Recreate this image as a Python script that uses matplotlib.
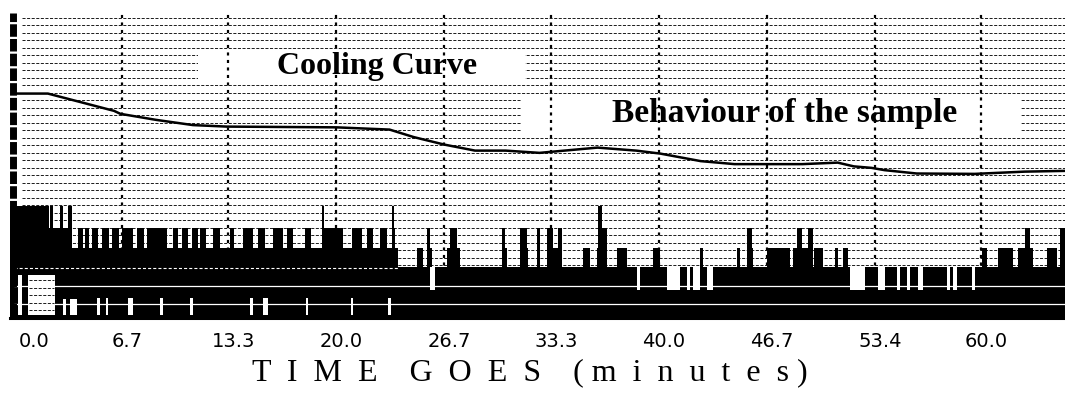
import matplotlib
matplotlib.use("Agg")
import matplotlib.pyplot as plt
from matplotlib.patches import Rectangle
from matplotlib.transforms import ScaledTranslation

plt.rcParams["lines.scale_dashes"] = False

# time axis (minutes)
tick_vals = [0.0, 6.7, 13.3, 20.0, 26.7, 33.3, 40.0, 46.7, 53.4, 60.0]
tick_labels = ["0.0", "6.7", "13.3", "20.0", "26.7", "33.3", "40.0", "46.7", "53.4", "60.0"]

# cooling curve (arbitrary level units, one unit = one grid row)
curve_t = [0.2, 2.1, 6.2, 6.6, 8.8, 11.1, 13.2, 20.0, 23.3, 24.8, 26.7, 28.6, 30.5, 32.6,
           36.2, 38.6, 40.1, 42.6, 44.7, 48.9, 51.1, 52.1, 53.2, 54.0, 56.0, 59.6, 62.7, 65.2]
curve_level = [29.9, 29.9, 27.6, 27.2, 26.4, 25.7, 25.5, 25.4, 25.1, 24.1, 23.1, 22.3, 22.3, 22.0,
               22.7, 22.3, 21.9, 20.9, 20.5, 20.5, 20.7, 20.2, 20.0, 19.7, 19.25, 19.2, 19.5, 19.6]

# behaviour of the sample: solid base (start, end, top)
base_spans = [(-0.3, 2.2, 14.9), (2.2, 3.5, 12.0), (3.5, 23.85, 9.3), (23.85, 65.3, 6.8)]

# upper pulses (start, end) reaching row 12
pulses_high = [(3.97, 4.25), (4.4, 4.65), (4.84, 5.2), (5.46, 5.88), (6.08, 6.5), (6.7, 7.4),
               (7.63, 8.05), (8.25, 9.5), (9.86, 10.15), (10.42, 10.78), (11.04, 11.4),
               (11.54, 11.9), (12.34, 12.8), (13.4, 13.65), (14.2, 14.85), (15.14, 15.6),
               (16.07, 16.7), (16.94, 17.3), (18.05, 18.4), (19.1, 20.4), (20.97, 21.6),
               (21.9, 22.25), (22.7, 23.15), (23.45, 23.64), (25.6, 25.8), (27.05, 27.48),
               (30.27, 30.46), (31.4, 31.8), (32.44, 32.63), (33.06, 33.44), (33.75, 34.0),
               (36.2, 36.8), (45.5, 45.8), (48.57, 48.88), (49.26, 49.57), (62.7, 63.0),
               (64.9, 65.2)]
# tallest pulses reaching row 14.9
pulses_top = [(2.23, 2.42), (2.85, 3.04), (3.35, 3.6), (19.1, 19.22), (23.45, 23.6), (36.2, 36.45)]
# middle pulses reaching row 9.3
pulses_mid = [(25.0, 25.4), (25.7, 25.9), (26.86, 27.67), (30.27, 30.58), (31.4, 31.9),
              (32.44, 32.63), (33.06, 34.0), (35.3, 35.73), (36.17, 36.8), (37.4, 38.0),
              (39.64, 40.07), (42.56, 42.75), (44.85, 45.04), (45.66, 45.84), (46.71, 48.14),
              (48.3, 49.4), (49.6, 50.19), (50.93, 51.12), (51.43, 51.74), (60.05, 60.36),
              (61.04, 61.97), (62.28, 63.21), (64.08, 64.7), (64.89, 65.2)]
# drop-outs in the base (start, end)
dropouts = [(25.8, 26.1), (38.65, 38.83), (40.5, 41.3), (41.75, 41.94), (42.1, 42.56),
            (43.0, 43.36), (51.86, 52.79), (53.6, 54.03), (54.78, 54.96), (55.4, 55.58),
            (56.08, 56.39), (57.88, 58.06), (58.25, 58.5), (59.43, 59.62)]
# white gaps near the bottom (start, end, top)
low_gaps = [(0.25, 0.5, 5.7), (0.87, 2.54, 5.7), (3.04, 3.23, 2.5), (3.47, 3.9, 2.5),
            (5.15, 5.33, 2.6), (5.7, 5.82, 2.6), (7.07, 7.38, 2.6), (9.06, 9.24, 2.6),
            (10.9, 11.1, 2.6), (14.64, 14.83, 2.6), (15.45, 15.76, 2.6), (18.12, 18.24, 2.6),
            (20.91, 21.03, 2.6), (23.2, 23.39, 2.6)]

fig = plt.figure(figsize=(10.65, 3.96), dpi=100)
ax = fig.add_axes([10 / 1065, 78 / 396, 1055 / 1065, 310 / 396])
ax.set_xlim(-0.25, 65.2)
ax.set_ylim(0, 41.3)

# dashed row lines
for lv in range(2, 41):
    ax.hlines(lv, 0.5, 65.2, colors="#1a1a1a", linewidth=0.7, linestyles=(0, (2.2, 1.1)), zorder=1)

# label boxes blank out the row lines
ax.add_patch(Rectangle((11.4, 31.5), 20.3, 4.0, facecolor="white", edgecolor="none", zorder=2))
ax.add_patch(Rectangle((31.45, 24.9), 31.05, 5.0, facecolor="white", edgecolor="none", zorder=2))

# time grid
ax.vlines(tick_vals[1:], 0, 40.8, colors="black", linewidth=1.6,
          linestyles=(0, (2.2, 3.2)), zorder=3)

# sample behaviour trace
for t0, t1, top in base_spans:
    ax.bar(t0, top, width=t1 - t0, align="edge", color="black", linewidth=0, zorder=4)
for t0, t1 in pulses_high:
    ax.bar(t0, 12.0, width=t1 - t0, align="edge", color="black", linewidth=0, zorder=4)
for t0, t1 in pulses_top:
    ax.bar(t0, 14.9, width=t1 - t0, align="edge", color="black", linewidth=0, zorder=4)
for t0, t1 in pulses_mid:
    ax.bar(t0, 9.3, width=t1 - t0, align="edge", color="black", linewidth=0, zorder=4)
for t0, t1 in dropouts:
    ax.bar(t0, 3.1, bottom=3.7, width=t1 - t0, align="edge", color="white", linewidth=0, zorder=5)
for t0, t1, top in low_gaps:
    ax.bar(t0, top - 0.35, bottom=0.35, width=t1 - t0, align="edge", color="white",
           linewidth=0, zorder=5)
ax.hlines([1.9, 4.3], 0.0, 65.2, colors="white", linewidth=0.9, zorder=6)
ax.hlines(6.7, 0.0, 23.8, colors="white", linewidth=0.8, linestyles=(0, (2.2, 1.5)), zorder=6)
for lv in range(1, 6):
    ax.hlines(lv, 0.9, 2.5, colors="#1a1a1a", linewidth=0.7, linestyles=(0, (2.2, 1.1)), zorder=6)

# cooling curve
ax.plot(curve_t, curve_level, color="black", linewidth=1.8, zorder=7)

# left ruler
ax.plot([-0.09, -0.09], [0.3, 40.6], color="black", linewidth=5,
        linestyle=(0, (9, 1.6)), solid_capstyle="butt", zorder=8, clip_on=False)

ax.text(22.5, 33.5, "Cooling Curve", ha="center", va="center", fontsize=23,
        fontweight="bold", family="Liberation Serif", zorder=9)
ax.text(47.8, 27.2, "Behaviour of the sample", ha="center", va="center", fontsize=24,
        fontweight="bold", family="Liberation Serif", zorder=9)

for side in ["top", "right", "left"]:
    ax.spines[side].set_visible(False)
ax.spines["bottom"].set_linewidth(2.2)
ax.set_yticks([])
ax.set_xticks(tick_vals, labels=tick_labels)
ax.tick_params(axis="x", length=0, pad=10, labelsize=14)
for i, lbl in enumerate(ax.get_xticklabels()):
    shift = 0.2 if i == 0 else 0.05
    lbl.set_transform(lbl.get_transform() + ScaledTranslation(shift, 0, fig.dpi_scale_trans))

fig.text(530 / 1065, 1 - 373 / 396, "T  I  M  E    G  O  E  S    ( m  i  n  u  t  e  s )",
         ha="center", va="center", fontsize=23, family="Liberation Serif")

fig.savefig("out.png", dpi=100, facecolor="white")
